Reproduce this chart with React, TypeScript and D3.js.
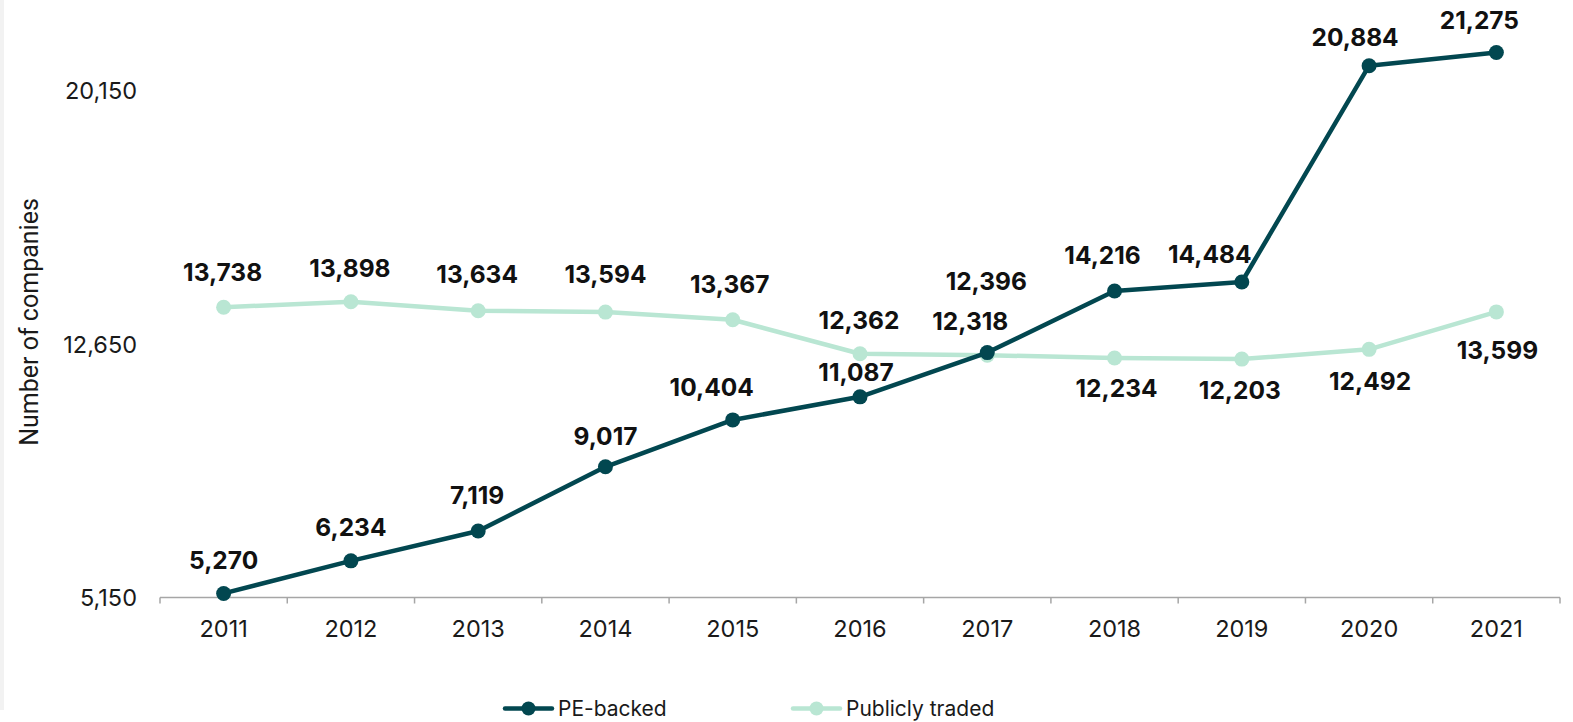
import React from "react";
import * as d3 from "d3";

const years = [2011, 2012, 2013, 2014, 2015, 2016, 2017, 2018, 2019, 2020, 2021];
const peBacked = [5270, 6234, 7119, 9017, 10404, 11087, 12396, 14216, 14484, 20884, 21275];
const publiclyTraded = [13738, 13898, 13634, 13594, 13367, 12362, 12318, 12234, 12203, 12492, 13599];
const yTicks = [5150, 12650, 20150];
const seriesNames = ["PE-backed", "Publicly traded"];

// label placement offsets (label centre relative to point), px
const peLabelDx = [0, 0, -1, 0, -21, -4, -1, -12, -32, -14, -17];
const peLabelDy = [-33, -34, -36, -31, -33, -25, -71, -36, -28, -29, -32];
const pubLabelDx = [-1, -1, -1, 0, -3, -1, -17, 2, -2, 1, 1];
const pubLabelDy = [-35, -34, -37, -38, -36, -34, -34, 30, 31, 32, 38];

const W = 1573;
const H = 722;
const PE_COLOR = "#024750";
const PUB_COLOR = "#b9e6d3";
const FONT = "Inter, 'Noto Sans', sans-serif";

export default function App() {
  const x = d3.scaleBand<number>().domain(years).range([160, 1560]).padding(0);
  const y = d3.scaleLinear().domain([5150, 20150]).range([597.5, 90.5]);
  const cx = (yr: number) => (x(yr) as number) + x.bandwidth() / 2;
  const fmt = d3.format(",");
  const line = d3
    .line<number>()
    .x((_, i) => cx(years[i]))
    .y((v) => y(v));

  const baseY = y(5150);
  const tickFs = 23.5;
  const labelFs = 24.5;
  const legendFs = 21;
  const cap = (fs: number) => fs * 0.727 / 2;

  const series = [
    { name: seriesNames[0], values: peBacked, color: PE_COLOR, dx: peLabelDx, dy: peLabelDy },
    { name: seriesNames[1], values: publiclyTraded, color: PUB_COLOR, dx: pubLabelDx, dy: pubLabelDy },
  ];

  const boundaries = [...years.map((yr) => x(yr) as number), 1560];

  return (
    <div style={{ position: "fixed", left: 0, top: 0, width: W, height: H, background: "#fff" }}>
      <svg width={W} height={H} style={{ display: "block" }}>
        <rect x={0} y={0} width={4} height={710} fill="#f2f2f2" />
        {/* y tick labels */}
        {yTicks.map((t) => (
          <text
            key={t}
            x={137}
            y={y(t) + cap(tickFs)}
            textAnchor="end"
            fontFamily={FONT}
            fontSize={tickFs}
            fill="#1a1a1a"
          >
            {fmt(t)}
          </text>
        ))}
        {/* y title */}
        <text
          transform={`translate(38,322) rotate(-90)`}
          textAnchor="middle"
          fontFamily="Roboto, sans-serif"
          fontSize={25}
          fill="#1a1a1a"
        >
          Number of companies
        </text>
        {/* x axis */}
        <line x1={160} x2={1560} y1={baseY} y2={baseY} stroke="#a6a6a6" strokeWidth={1.5} />
        {boundaries.map((b, i) => (
          <line key={i} x1={b} x2={b} y1={baseY} y2={baseY + 6} stroke="#a6a6a6" strokeWidth={1.5} />
        ))}
        {years.map((yr) => (
          <text
            key={yr}
            x={cx(yr)}
            y={628.5 + cap(tickFs)}
            textAnchor="middle"
            fontFamily={FONT}
            fontSize={tickFs}
            fill="#1a1a1a"
          >
            {yr}
          </text>
        ))}
        {/* series: publicly traded first, PE on top */}
        {[series[1], series[0]].map((s) => (
          <g key={s.name}>
            <path d={line(s.values) || ""} fill="none" stroke={s.color} strokeWidth={4.5} strokeLinejoin="round" />
            {s.values.map((v, i) => (
              <circle key={i} cx={cx(years[i])} cy={y(v)} r={7.5} fill={s.color} />
            ))}
          </g>
        ))}
        {series.map((s) =>
          s.values.map((v, i) => (
            <text
              key={s.name + i}
              x={cx(years[i]) + s.dx[i]}
              y={y(v) + s.dy[i] + cap(labelFs)}
              textAnchor="middle"
              fontFamily={FONT}
              fontWeight={700}
              fontSize={labelFs}
              fill="#111"
            >
              {fmt(v)}
            </text>
          ))
        )}
        {/* legend */}
        {series.map((s, i) => {
          const lx = i === 0 ? 505 : 793;
          const ly = 708.5;
          return (
            <g key={s.name}>
              <line x1={lx} x2={lx + 47} y1={ly} y2={ly} stroke={s.color} strokeWidth={4.5} strokeLinecap="round" />
              <circle cx={lx + 23.5} cy={ly} r={7} fill={s.color} />
              <text x={lx + 53} y={ly + cap(legendFs)} fontFamily={FONT} fontSize={legendFs} fill="#1a1a1a">
                {s.name}
              </text>
            </g>
          );
        })}
      </svg>
    </div>
  );
}
